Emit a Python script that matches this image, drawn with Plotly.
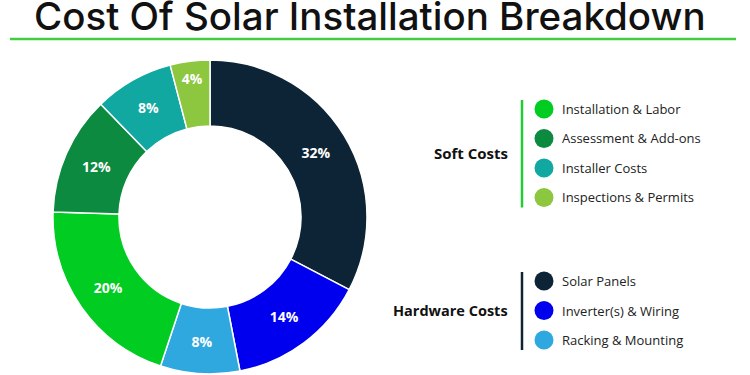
import plotly.graph_objects as go

# ---- data ----
categories = ["Solar Panels", "Inverter(s) & Wiring", "Racking & Mounting",
              "Installation & Labor", "Assessment & Add-ons", "Installer Costs",
              "Inspections & Permits"]
values = [32, 14, 8, 20, 12, 8, 4]
colors = ["#0d2436", "#0000ee", "#2fa8e0", "#00cc22", "#0b8a40", "#10a8a0", "#8dc63f"]

soft_group = ["Installation & Labor", "Assessment & Add-ons", "Installer Costs",
              "Inspections & Permits"]
hard_group = ["Solar Panels", "Inverter(s) & Wiring", "Racking & Mounting"]

title = "Cost Of Solar Installation Breakdown"

W, H = 750, 375
FONT = "Open Sans"

def px(x):
    return x / W

def py(y):
    return 1 - y / H

cx, cy, R = 210, 217, 157

fig = go.Figure(go.Pie(
    labels=categories,
    values=values,
    text=[f"{v}%" for v in values],
    textinfo="text",
    textposition="inside",
    insidetextorientation="horizontal",
    textfont=dict(family=FONT, size=14, color="white", weight=700),
    marker=dict(colors=colors, line=dict(color="white", width=1.5)),
    hole=0.58,
    sort=False,
    direction="clockwise",
    rotation=0,
    showlegend=False,
    domain=dict(x=[px(cx - R), px(cx + R)], y=[py(cy + R), py(cy - R)]),
))

shapes = []
annotations = []

# title and underline
annotations.append(dict(text=title, x=px(370), y=py(15.5), xref="paper", yref="paper",
                        xanchor="center", yanchor="middle", showarrow=False,
                        font=dict(family="Inter", size=38.5, color="#111111", weight=500)))
shapes.append(dict(type="line", xref="paper", yref="paper",
                   x0=px(10), x1=px(736), y0=py(39), y1=py(39),
                   line=dict(color="#3fcf3f", width=2.5)))

color_of = dict(zip(categories, colors))

def group(name, items, y_top, step, bar_color, label_x, size):
    ys = [y_top + 9 + i * step for i in range(len(items))]
    shapes.append(dict(type="line", xref="paper", yref="paper",
                       x0=px(522), x1=px(522), y0=py(ys[0] - 9), y1=py(ys[-1] + 10),
                       line=dict(color=bar_color, width=2.5)))
    for it, y in zip(items, ys):
        r = 9.5
        shapes.append(dict(type="circle", xref="paper", yref="paper",
                           x0=px(544 - r), x1=px(544 + r), y0=py(y + r), y1=py(y - r),
                           fillcolor=color_of[it], line=dict(width=0)))
        annotations.append(dict(text=it, x=px(560), y=py(y), xref="paper", yref="paper",
                                xanchor="left", yanchor="middle", showarrow=False,
                                font=dict(family=FONT, size=13, color="#222222")))
    mid = (ys[0] + ys[-1]) / 2
    annotations.append(dict(text=name, x=px(label_x), y=py(mid), xref="paper", yref="paper",
                            xanchor="right", yanchor="middle", showarrow=False,
                            font=dict(family=FONT, size=size, color="#111111", weight=700)))

group("Soft Costs", soft_group, 100, 29.5, "#22cc33", 510, 15)
group("Hardware Costs", hard_group, 272, 29.5, "#0d2436", 510, 14.5)

fig.update_layout(
    width=W, height=H,
    margin=dict(l=0, r=0, t=0, b=0),
    paper_bgcolor="white", plot_bgcolor="white",
    shapes=shapes, annotations=annotations,
)

fig.write_html("out.html", config={"displayModeBar": False},
               post_script="document.body.style.margin='0';document.body.style.overflow='hidden';")
